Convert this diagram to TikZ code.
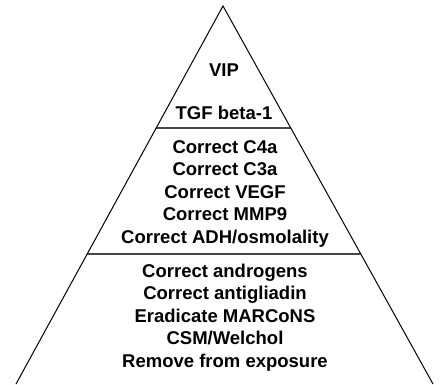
\documentclass[tikz,border=0pt]{standalone}
\usepackage{fontspec}
\setmainfont{Liberation Sans}
\begin{document}
\begin{tikzpicture}[x=1pt,y=-1pt,
  side/.style={draw=black,line width=1pt},
  divider/.style={draw=black!72,line width=2pt},
  lbl/.style={font=\fontsize{18.5}{22.5}\selectfont\bfseries,anchor=base,inner sep=0pt}]
\useasboundingbox (0,0) rectangle (440,384);
\coordinate (apex) at (223,6);
\coordinate (bl) at (16,384);
\coordinate (br) at (433,384);
\path (apex) -- (bl) coordinate[pos=0.3228] (l1) coordinate[pos=0.656] (l2);
\path (apex) -- (br) coordinate[pos=0.3228] (r1) coordinate[pos=0.656] (r2);
\draw[divider] (l1) -- (r1);
\draw[divider] (l2) -- (r2);
\draw[side,line join=miter] (bl) -- (apex) -- (br);
\node[lbl] (vip) at (224,76) {VIP};
\node[lbl] (tgf) at (224,119) {TGF beta-1};
\node[lbl] (m1) at (225,153) {Correct C4a};
\node[lbl] (m2) at (225,175.5) {Correct C3a};
\node[lbl] (m3) at (225,198) {Correct VEGF};
\node[lbl] (m4) at (225,220.5) {Correct MMP9};
\node[lbl] (m5) at (225,243) {Correct ADH/osmolality};
\node[lbl] (b1) at (225,277) {Correct androgens};
\node[lbl] (b2) at (225,299.5) {Correct antigliadin};
\node[lbl] (b3) at (225,322) {Eradicate MARCoNS};
\node[lbl] (b4) at (225,344.5) {CSM/Welchol};
\node[lbl] (b5) at (225,367) {Remove from exposure};
\end{tikzpicture}
\end{document}
